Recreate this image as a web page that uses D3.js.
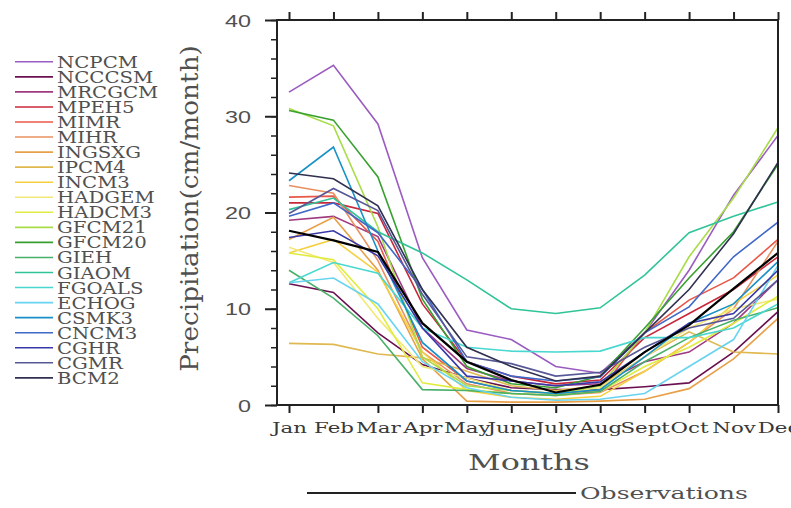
<!DOCTYPE html>
<html>
<head>
<meta charset="utf-8">
<script src="https://cdn.jsdelivr.net/npm/d3@7"></script>
<style>
  body { margin: 0; background: #fff; }
  svg { display: block; }
</style>
</head>
<body>
<div id="chart"></div>
<script>
// month categories on the x axis
const months = ["Jan", "Feb", "Mar", "Apr", "May", "June", "July", "Aug", "Sept", "Oct", "Nov", "Dec"];
const yTicks = [0, 10, 20, 30, 40];

// model runs (cm/month)
const NCPCM  = [32.5, 35.3, 29.2, 15.3, 7.8, 6.8, 4.0, 3.3, 7.5, 14.0, 21.8, 28.0];
const NCCCSM = [12.6, 11.7, 7.5, 4.2, 2.8, 1.8, 1.6, 1.6, 1.9, 2.3, 5.5, 9.7];
const MRCGCM = [19.2, 19.6, 17.5, 8.0, 3.8, 2.5, 2.0, 2.2, 4.5, 5.5, 8.5, 13.0];
const MPEH5  = [21.0, 21.0, 19.9, 10.5, 4.5, 3.0, 2.2, 2.6, 7.0, 9.5, 12.0, 15.4];
const MIMR   = [21.6, 21.7, 17.0, 6.0, 2.5, 1.5, 1.2, 1.5, 7.5, 10.9, 13.2, 17.2];
const MIHR   = [22.8, 22.0, 15.0, 5.5, 2.2, 1.2, 1.0, 1.3, 3.5, 6.5, 10.0, 17.0];
const INGSXG = [17.2, 19.5, 14.0, 4.8, 0.4, 0.3, 0.3, 0.4, 0.6, 1.7, 4.8, 9.0];
const IPCM4  = [6.4, 6.3, 5.3, 4.9, 3.5, 2.0, 1.5, 2.0, 5.0, 7.6, 5.5, 5.3];
const INCM3  = [15.8, 17.2, 13.8, 5.5, 1.5, 0.8, 0.6, 0.9, 3.5, 6.5, 10.5, 13.5];
const HADGEM = [16.4, 14.8, 9.0, 4.0, 2.8, 1.5, 1.2, 1.8, 5.0, 8.0, 10.0, 11.0];
const HADCM3 = [15.8, 15.1, 10.0, 2.3, 1.6, 1.2, 1.0, 1.4, 4.0, 6.0, 8.5, 11.3];
const GFCM21 = [30.8, 29.0, 18.5, 5.0, 2.0, 1.5, 1.2, 2.0, 7.5, 15.4, 21.5, 28.8];
const GFCM20 = [30.6, 29.6, 23.7, 11.0, 4.0, 2.2, 1.8, 3.0, 8.0, 13.2, 18.0, 25.0];
const GIEH   = [14.0, 11.1, 7.2, 1.6, 1.5, 1.2, 1.0, 1.4, 4.5, 7.0, 8.8, 10.1];
const GIAOM  = [20.3, 21.5, 18.0, 15.8, 13.0, 10.0, 9.5, 10.1, 13.5, 17.9, 19.6, 21.1];
const FGOALS = [12.7, 14.8, 13.7, 8.0, 6.0, 5.6, 5.5, 5.6, 7.0, 7.0, 8.0, 10.5];
const ECHOG  = [12.7, 13.2, 10.5, 4.5, 1.8, 0.8, 0.5, 0.6, 1.2, 4.0, 6.8, 14.5];
const CSMK3  = [23.3, 26.8, 16.0, 6.5, 2.5, 1.5, 1.2, 1.6, 5.0, 8.5, 10.5, 14.9];
const CNCM3  = [19.6, 21.0, 17.9, 12.0, 4.5, 3.0, 2.5, 2.9, 7.5, 10.2, 15.4, 19.0];
const CGHR   = [17.4, 18.1, 15.5, 8.0, 3.0, 2.5, 2.0, 2.4, 5.5, 8.5, 9.5, 14.0];
const CGMR   = [19.9, 22.5, 20.2, 11.5, 5.0, 4.3, 3.0, 3.4, 6.0, 8.0, 9.0, 13.0];
const BCM2   = [24.1, 23.5, 20.7, 12.0, 6.0, 4.0, 2.5, 3.0, 7.5, 12.0, 17.8, 25.2];

const observations = [18.1, 17.1, 15.9, 8.5, 4.5, 2.6, 1.3, 2.1, 5.5, 8.3, 12.1, 15.8];

const modelNames = ["NCPCM", "NCCCSM", "MRCGCM", "MPEH5", "MIMR", "MIHR", "INGSXG", "IPCM4",
  "INCM3", "HADGEM", "HADCM3", "GFCM21", "GFCM20", "GIEH", "GIAOM", "FGOALS", "ECHOG",
  "CSMK3", "CNCM3", "CGHR", "CGMR", "BCM2"];
const modelValues = [NCPCM, NCCCSM, MRCGCM, MPEH5, MIMR, MIHR, INGSXG, IPCM4, INCM3, HADGEM,
  HADCM3, GFCM21, GFCM20, GIEH, GIAOM, FGOALS, ECHOG, CSMK3, CNCM3, CGHR, CGMR, BCM2];
const modelColors = ["#9a5cc0", "#6a1050", "#a03a80", "#c8283c", "#e85848", "#e89060", "#e8a048",
  "#e0b850", "#f4d040", "#f2e878", "#e0ec40", "#a8dc48", "#38a030", "#48b068", "#30c498",
  "#48d8d0", "#68d4f0", "#1890c8", "#4068c8", "#3838a8", "#585898", "#303050"];

const W = 791, H = 508;
const frame = { left: 277, right: 778, top: 20, bottom: 405 };
const textColor = "#505050";

const svg = d3.select("#chart").append("svg")
  .attr("width", W)
  .attr("height", H);

const x = d3.scaleLinear().domain([0, 11]).range([289, frame.right]);
const y = d3.scaleLinear().domain([0, 40]).range([frame.bottom, frame.top]);

// the reference text is stretched sideways; get the x scale that gives a target width
function fitWidth(el, target) {
  const w = el.node().getComputedTextLength();
  return target / w;
}

svg.append("clipPath").attr("id", "plot-clip")
  .append("rect")
  .attr("x", frame.left).attr("y", frame.top)
  .attr("width", frame.right - frame.left)
  .attr("height", frame.bottom - frame.top);

const line = d3.line()
  .x((d, i) => x(i))
  .y(d => y(d));

const lines = svg.append("g").attr("clip-path", "url(#plot-clip)");

lines.selectAll("path.model")
  .data(modelValues)
  .enter()
  .append("path")
  .attr("class", "model")
  .attr("d", d => line(d))
  .attr("fill", "none")
  .attr("stroke", (d, i) => modelColors[i])
  .attr("stroke-width", 1.6);

lines.append("path")
  .attr("d", line(observations))
  .attr("fill", "none")
  .attr("stroke", "#000")
  .attr("stroke-width", 2.2);

// frame
svg.append("rect")
  .attr("x", frame.left).attr("y", frame.top)
  .attr("width", frame.right - frame.left)
  .attr("height", frame.bottom - frame.top)
  .attr("fill", "none")
  .attr("stroke", "#222")
  .attr("stroke-width", 2);

// bottom axis with month labels
const xAxis = svg.append("g")
  .attr("transform", `translate(0,${frame.bottom})`)
  .call(d3.axisBottom(x).tickValues(d3.range(12)).tickSize(8)
    .tickFormat(i => months[i]));
xAxis.select(".domain").remove();
xAxis.selectAll("line").attr("stroke", "#222").attr("stroke-width", 2);
xAxis.selectAll("text")
  .attr("dy", null)
  .attr("y", 28)
  .style("font-family", "'DejaVu Serif', serif")
  .style("font-size", "14px")
  .attr("fill", "#383838");
const monthScale = fitWidth(xAxis.select("text"), 35);
xAxis.selectAll("text").attr("transform", `scale(${monthScale},1)`);

// top axis, ticks only
const topAxis = svg.append("g")
  .attr("transform", `translate(0,${frame.top})`)
  .call(d3.axisTop(x).tickValues(d3.range(12)).tickSize(8).tickFormat(""));
topAxis.select(".domain").remove();
topAxis.selectAll("line").attr("stroke", "#222").attr("stroke-width", 2);

// left axis: major ticks with labels, minor ticks every 2
const yAxisG = svg.append("g").attr("transform", `translate(${frame.left},0)`);
const yMinor = yAxisG.append("g")
  .call(d3.axisLeft(y).tickValues(d3.range(0, 41, 2)).tickSize(6).tickFormat(""));
yMinor.select(".domain").remove();
yMinor.selectAll("line").attr("stroke", "#222").attr("stroke-width", 1.5);

const yMajor = yAxisG.append("g")
  .call(d3.axisLeft(y).tickValues(yTicks).tickSize(12).tickFormat(d3.format("d")));
yMajor.select(".domain").remove();
yMajor.selectAll("line").attr("stroke", "#222").attr("stroke-width", 2);
yMajor.selectAll("text")
  .attr("x", 0)
  .attr("dy", "0.36em")
  .style("font-family", "'Liberation Sans', Arial, sans-serif")
  .style("font-size", "17px")
  .attr("fill", textColor);
const yTickScale = fitWidth(yMajor.selectAll("text").filter(d => d === 40), 26);
yMajor.selectAll("text").attr("transform", `translate(-26,0) scale(${yTickScale},1)`);

// axis titles
const xTitle = svg.append("text")
  .attr("text-anchor", "middle")
  .style("font-family", "'DejaVu Serif', serif")
  .style("font-size", "23px")
  .attr("fill", textColor)
  .text("Months");
xTitle.attr("transform", `translate(529,470) scale(${fitWidth(xTitle, 122)},1)`);

const yTitle = svg.append("text")
  .attr("text-anchor", "middle")
  .style("font-family", "'DejaVu Serif', serif")
  .style("font-size", "20px")
  .attr("fill", textColor)
  .text("Precipitation(cm/month)");
yTitle.attr("transform", `translate(198,208.5) rotate(-90) scale(${fitWidth(yTitle, 327)},1.25)`);

// model legend on the left
const legend = svg.append("g");
const legendRows = legend.selectAll("g")
  .data(modelNames)
  .enter()
  .append("g")
  .attr("transform", (d, i) => `translate(0,${61.8 + i * 15.05})`);

legendRows.append("line")
  .attr("x1", 15).attr("x2", 53)
  .attr("stroke", (d, i) => modelColors[i])
  .attr("stroke-width", 1.6);

legendRows.append("text")
  .attr("y", 6)
  .style("font-family", "'DejaVu Serif', serif")
  .style("font-size", "16px")
  .attr("fill", textColor)
  .text(d => d);
const legendScale = fitWidth(legendRows.select("text"), 81);
legendRows.selectAll("text").attr("transform", `translate(57,0) scale(${legendScale},1)`);

// observations key below the axis title
svg.append("line")
  .attr("x1", 307).attr("x2", 576)
  .attr("y1", 493).attr("y2", 493)
  .attr("stroke", "#222")
  .attr("stroke-width", 2);

const obsLabel = svg.append("text")
  .style("font-family", "'DejaVu Serif', serif")
  .style("font-size", "17px")
  .attr("fill", textColor)
  .text("Observations");
obsLabel.attr("transform", `translate(580,499) scale(${fitWidth(obsLabel, 168)},1)`);
</script>
</body>
</html>
